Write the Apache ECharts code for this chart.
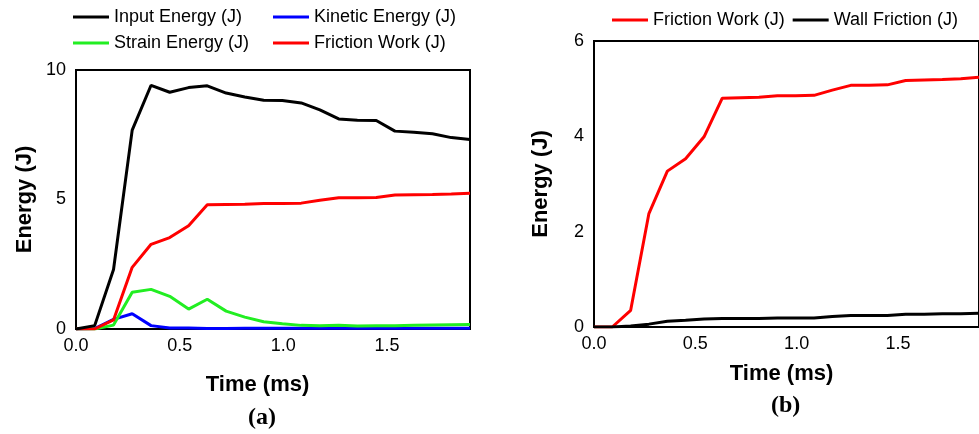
<!DOCTYPE html>
<html>
<head>
<meta charset="utf-8">
<script src="https://cdn.jsdelivr.net/npm/echarts@6/dist/echarts.min.js"></script>
<style>
html,body{margin:0;padding:0;background:#fff;}
#chart{width:979px;height:434px;}
</style>
</head>
<body>
<div id="chart"></div>
<script>
// Time samples (ms)
const time = [0, 0.090, 0.181, 0.271, 0.362, 0.452, 0.543, 0.633, 0.724, 0.814, 0.905,
              0.995, 1.086, 1.176, 1.267, 1.357, 1.448, 1.538, 1.629, 1.719, 1.810, 1.900];
// Chart (a)
const inputEnergy   = [0, 0.13, 2.30, 7.68, 9.41, 9.14, 9.32, 9.39, 9.11, 8.96, 8.83,
                       8.82, 8.73, 8.46, 8.11, 8.06, 8.05, 7.64, 7.60, 7.54, 7.39, 7.32];
const kineticEnergy = [0, 0.02, 0.37, 0.59, 0.13, 0.04, 0.04, 0.02, 0.02, 0.03, 0.03,
                       0.03, 0.03, 0.03, 0.03, 0.03, 0.03, 0.03, 0.03, 0.03, 0.03, 0.03];
const strainEnergy  = [0, 0.00, 0.15, 1.42, 1.53, 1.26, 0.77, 1.15, 0.69, 0.46, 0.28,
                       0.20, 0.14, 0.13, 0.14, 0.12, 0.13, 0.13, 0.14, 0.15, 0.16, 0.17];
const frictionWork  = [0, 0.00, 0.35, 2.38, 3.27, 3.53, 3.99, 4.80, 4.81, 4.82, 4.85,
                       4.85, 4.86, 4.97, 5.07, 5.07, 5.08, 5.17, 5.18, 5.19, 5.21, 5.24];
// Chart (b)
const wallFriction  = [0, 0.00, 0.02, 0.06, 0.12, 0.14, 0.17, 0.18, 0.18, 0.18, 0.19,
                       0.19, 0.19, 0.22, 0.24, 0.24, 0.24, 0.27, 0.27, 0.28, 0.28, 0.29];

const xTicksA = [0, 0.5, 1.0, 1.5];
const yTicksA = [0, 5, 10];
const yTicksB = [0, 2, 4, 6];

const SANS = '"Liberation Sans", Arial, Helvetica, sans-serif';
const pairs = arr => arr.map((v, i) => [time[i], v]);

function lineSeries(name, data, color, gi) {
  return {
    name: name, type: 'line', xAxisIndex: gi, yAxisIndex: gi,
    data: pairs(data), showSymbol: false, symbol: 'none',
    lineStyle: {color: color, width: 3}, itemStyle: {color: color},
    animation: false
  };
}

const legendBase = {
  orient: 'horizontal', padding: 0, icon: 'rect', itemWidth: 36, itemHeight: 3,
  textStyle: {fontFamily: SANS, fontSize: 18, color: '#000'}
};

function xAxis(gi, nameGap, namePad) {
  return {
    type: 'value', gridIndex: gi, min: 0, max: 1.9, interval: 0.5,
    name: 'Time (ms)', nameLocation: 'middle', nameGap: nameGap,
    nameTextStyle: {fontFamily: SANS, fontSize: 22, fontWeight: 'bold', color: '#000', padding: namePad},
    axisLine: {show: true, lineStyle: {color: '#000', width: 2}},
    axisTick: {show: false}, splitLine: {show: false},
    axisLabel: {fontFamily: SANS, fontSize: 18, color: '#000', margin: 8,
      showMaxLabel: false, formatter: v => v.toFixed(1)}
  };
}
function yAxis(gi, max, interval, nameGap) {
  return {
    type: 'value', gridIndex: gi, min: 0, max: max, interval: interval,
    name: 'Energy (J)', nameLocation: 'middle', nameGap: nameGap,
    nameTextStyle: {fontFamily: SANS, fontSize: 22, fontWeight: 'bold', color: '#000'},
    axisLine: {show: true, lineStyle: {color: '#000', width: 2}},
    axisTick: {show: false}, splitLine: {show: false},
    axisLabel: {fontFamily: SANS, fontSize: 18, color: '#000', margin: 10}
  };
}

const chart = echarts.init(document.getElementById('chart'), null, {renderer: 'canvas'});
chart.setOption({
  animation: false,
  backgroundColor: '#fff',
  grid: [
    {left: 76, top: 70, width: 394, height: 259, show: true, borderColor: '#000', borderWidth: 2, containLabel: false},
    {left: 594, top: 41, width: 390, height: 286, show: true, borderColor: '#000', borderWidth: 2, containLabel: false}
  ],
  legend: [
    Object.assign({}, legendBase, {left: 73, top: 8, data: ['Input Energy (J)']}),
    Object.assign({}, legendBase, {left: 273, top: 8, data: ['Kinetic Energy (J)']}),
    Object.assign({}, legendBase, {left: 73, top: 34, data: ['Strain Energy (J)']}),
    Object.assign({}, legendBase, {left: 273, top: 34, data: ['Friction Work (J)']}),
    Object.assign({}, legendBase, {left: 612, top: 11, itemGap: 8, data: ['Friction Work (J)', 'Wall Friction (J)']})
  ],
  xAxis: [xAxis(0, 45, [0, 31, 0, 0]), xAxis(1, 36, [0, 10, 0, 0])],
  yAxis: [yAxis(0, 10, 5, 40), yAxis(1, 6, 2, 42)],
  series: [
    lineSeries('Kinetic Energy (J)', kineticEnergy, '#0000ff', 0),
    lineSeries('Strain Energy (J)', strainEnergy, '#22ee22', 0),
    lineSeries('Friction Work (J)', frictionWork, '#ff0000', 0),
    lineSeries('Input Energy (J)', inputEnergy, '#000000', 0),
    lineSeries('Friction Work (J)', frictionWork, '#ff0000', 1),
    lineSeries('Wall Friction (J)', wallFriction, '#000000', 1)
  ],
  graphic: [
    {type: 'text', left: 248, top: 406, style: {text: '(a)', font: 'bold 24px "Liberation Serif", "Times New Roman", serif', fill: '#000'}},
    {type: 'text', left: 771, top: 394, style: {text: '(b)', font: 'bold 24px "Liberation Serif", "Times New Roman", serif', fill: '#000'}}
  ]
});
</script>
</body>
</html>
